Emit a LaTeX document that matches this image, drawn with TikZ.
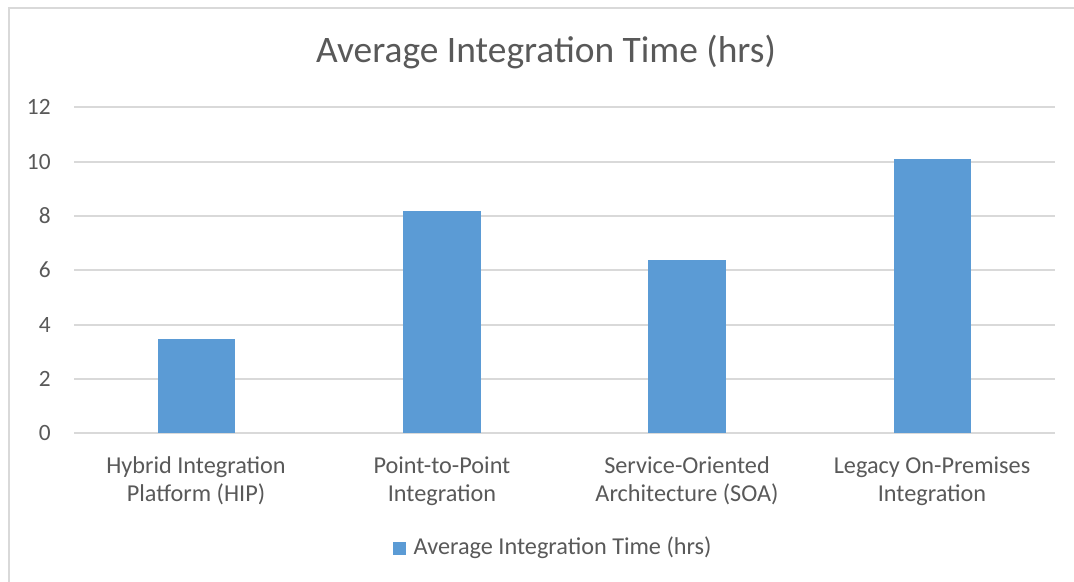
\documentclass[tikz,border=0pt]{standalone}
\usepackage{fontspec}
\setmainfont{Carlito}
\usepackage{tikz}
\usetikzlibrary{positioning}
\definecolor{barblue}{HTML}{5B9BD5}
\definecolor{txtgray}{HTML}{595959}
\definecolor{gridgray}{HTML}{D9D9D9}

\begin{document}
\begin{tikzpicture}
	[x=0.02cm, y=-0.02cm, inner sep=0pt,
	frame/.style	= {draw=gridgray, line width=0.6pt},
	gridline/.style	= {draw=gridgray, line width=0.8pt},
	bar/.style	= {fill=barblue, draw=none},
	ticklabel/.style	= {anchor=east, text=txtgray, font=\fontsize{13.3}{15}\selectfont},
	catlabel/.style	= {align=center, text=txtgray, font=\fontsize{13.8}{16.2}\selectfont},
	title/.style	= {text=txtgray, font=\fontsize{21.3}{25}\selectfont}]
	
	\useasboundingbox (0,0) rectangle (1074,581);
	\fill[white] (0,0) rectangle (1074,581);
	\draw [frame] (9,590) -- (9,8) -- (1085,8);
	
	\node at (546, 52)	[title]	(ttl)	{Average Integration Time (hrs)};
	
	% gridlines and y ticks
	\foreach \v/\yy in {0/433, 2/379, 4/325, 6/270, 8/216, 10/162, 12/107} {
		\draw [gridline] (74,\yy) -- (1055,\yy);
		\node at (51,\yy)	[ticklabel]	(t\v)	{\v};
	}
	
	\fill [bar] (158,433) rectangle (235,339);
	\fill [bar] (403,433) rectangle (481,211);
	\fill [bar] (648,433) rectangle (726,260);
	\fill [bar] (894,433) rectangle (971,159);
	
	\node at (196, 481)	[catlabel]	(hip)	{Hybrid Integration\\Platform (HIP)};
	\node at (442, 481)	[catlabel]	(p2p)	{Point-to-Point\\Integration};
	\node at (687, 481)	[catlabel]	(soa)	{Service-Oriented\\Architecture (SOA)};
	\node at (932, 481)	[catlabel]	(leg)	{Legacy On-Premises\\Integration};
	
	\node at (399.5, 548)	[bar, minimum size=13*0.02cm]	(key)	{};
	\node [right=7*0.02cm of key, text=txtgray, font=\fontsize{13.8}{16}\selectfont]	(keytxt)	{Average Integration Time (hrs)};
	
\end{tikzpicture}
\end{document}
